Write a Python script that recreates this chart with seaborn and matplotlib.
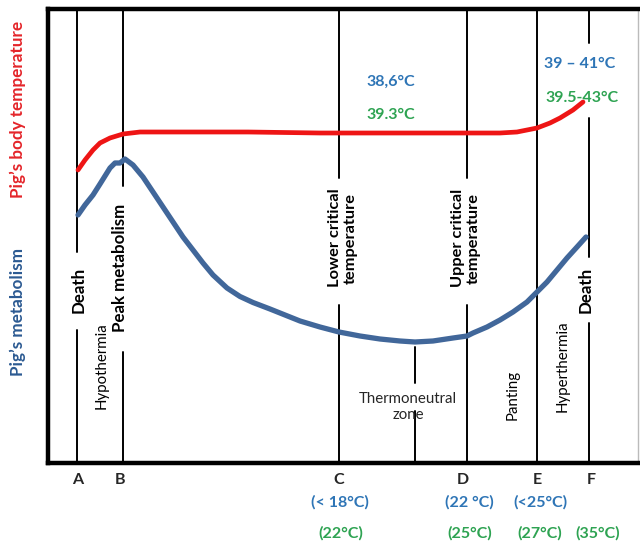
import matplotlib
matplotlib.use("Agg")
import matplotlib.pyplot as plt
import seaborn as sns
import pandas as pd

# ---- data ----
# body temperature curve (arbitrary units)
temp_x = [30, 37, 45, 52, 62, 75, 92, 145, 200, 272, 291, 419, 452, 469, 489, 502, 512, 525, 535]
temp_y = [293, 303, 313, 320, 325, 329, 331, 331, 331, 330, 330, 330, 330, 331, 335, 340, 345, 353, 361]
# metabolism curve (arbitrary units)
metab_x = [30, 37, 45, 52, 62, 67, 72, 77, 85, 95, 105, 115, 125, 135, 145, 155, 165, 179,
           192, 205, 222, 232, 252, 272, 291, 312, 332, 352, 367, 385, 405, 419, 425, 439,
           452, 465, 479, 489, 499, 509, 519, 529, 538]
metab_y = [248, 258, 268, 279, 295, 300, 300, 304, 298, 286, 271, 256, 241, 226, 213, 200, 188, 175,
           166.5, 160.5, 154, 150, 142, 136, 131, 127, 124, 122, 121, 122, 125, 127, 130, 136,
           143, 151, 161, 171, 181, 193, 205, 216, 226]

stage_labels = ["A", "B", "C", "D", "E", "F"]
stage_x = [29, 75, 291, 419, 489, 541]
thermo_mid_x = 367

low_temp_blue = ["(< 18°C)", "(22 °C)", "(<25°C)"]
low_temp_blue_x = [292, 421, 492]
low_temp_green = ["(22°C)", "(25°C)", "(27°C)", "(35°C)"]
low_temp_green_x = [293, 422, 492, 550]

body_temp_blue = ["38,6°C", "39 – 41°C"]
body_temp_green = ["39.3°C", "39.5-43°C"]

# ---- style ----
sns.set_theme(style="white")
plt.rcParams["font.family"] = ["Lato", "DejaVu Sans"]

RED = "#ee1515"
BLUE = "#41679a"
RED_LBL = "#e4252a"
BLUE_LBL = "#2c5a92"
TBLUE = "#2e75b6"
TGREEN = "#2ea352"

fig = plt.figure(figsize=(6.4, 5.48), dpi=100)
ax = fig.add_axes([48 / 640, 1 - 463 / 548, 590 / 640, (463 - 8.5) / 548])
ax.set_xlim(0, 590)
ax.set_ylim(0, 454.5)

df_t = pd.DataFrame({"x": temp_x, "y": temp_y})
df_m = pd.DataFrame({"x": metab_x, "y": metab_y})
sns.lineplot(data=df_m, x="x", y="y", sort=False, color=BLUE, lw=3.8, ax=ax,
             solid_capstyle="round", solid_joinstyle="round", zorder=3)
sns.lineplot(data=df_t, x="x", y="y", sort=False, color=RED, lw=3.4, ax=ax,
             solid_capstyle="round", solid_joinstyle="round", zorder=3)

# vertical stage lines (with gaps for labels)
vl = dict(color="black", lw=1.4, zorder=2)
ymax = 454.5
segs = {
    stage_x[0]: [(211, ymax), (0, 133)],
    stage_x[1]: [(277, ymax), (0, 111)],
    stage_x[2]: [(285, ymax), (0, 158)],
    stage_x[3]: [(285, ymax), (0, 158)],
    stage_x[4]: [(0, ymax)],
    stage_x[5]: [(420, ymax), (206, 345), (0, 140)],
    thermo_mid_x: [(80, 116), (0, 52)],
}
for x, ss in segs.items():
    for lo, hi in ss:
        ax.plot([x, x], [lo, hi], **vl)

# spines
for s in ["left", "bottom", "top"]:
    ax.spines[s].set_linewidth(3.2)
    ax.spines[s].set_color("black")
ax.spines["right"].set_linewidth(1.0)
ax.spines["right"].set_color("#bbbbbb")
ax.set_xticks([])
ax.set_yticks([])
ax.set_xlabel("")
ax.set_ylabel("")

# rotated labels at lines
BF = 12.2
NF = 10.8
bold = dict(fontweight="bold", rotation=90, ha="center", va="center", color="black")
norm = dict(rotation=90, ha="center", va="center", color="black")
ax.text(31, 173, "Death", fontsize=BF, **bold)
ax.text(54, 97, "Hypothermia", fontsize=NF, **norm)
ax.text(72, 195, "Peak metabolism", fontsize=BF, **bold)
ax.text(295, 225, "Lower critical\ntemperature", fontsize=BF * 0.97, linespacing=1.15, **bold)
ax.text(418, 225, "Upper critical\ntemperature", fontsize=BF * 0.97, linespacing=1.15, **bold)
ax.text(360, 56, "Thermoneutral\nzone", fontsize=NF, ha="center", va="center",
        linespacing=1.25)
ax.text(465, 68, "Panting", fontsize=NF, **norm)
ax.text(515, 97, "Hyperthermia", fontsize=NF, **norm)
ax.text(538, 173, "Death", fontsize=BF, **bold)

# body temperature annotations
TF = 11.5
ax.text(343, 381, body_temp_blue[0], fontsize=TF, fontweight="bold", color=TBLUE,
        ha="center", va="center")
ax.text(343, 348, body_temp_green[0], fontsize=TF, fontweight="bold", color=TGREEN,
        ha="center", va="center")
ax.text(532, 399, body_temp_blue[1], fontsize=TF, fontweight="bold", color=TBLUE,
        ha="center", va="center")
ax.text(534, 365, body_temp_green[1], fontsize=TF, fontweight="bold", color=TGREEN,
        ha="center", va="center")

# bottom labels
for lab, x in zip(stage_labels, [30, 72, 291, 415, 489, 543]):
    ax.text(x, -17, lab, fontsize=11.5, fontweight="bold", ha="center", va="center",
            clip_on=False)
for lab, x in zip(low_temp_blue, low_temp_blue_x):
    ax.text(x, -39, lab, fontsize=TF, fontweight="bold", color=TBLUE, ha="center",
            va="center", clip_on=False)
for lab, x in zip(low_temp_green, low_temp_green_x):
    ax.text(x, -70, lab, fontsize=TF, fontweight="bold", color=TGREEN, ha="center",
            va="center", clip_on=False)

# axis titles
fig.text(18 / 640, 1 - 109 / 548, "Pig’s body temperature", rotation=90, ha="center",
         va="center", fontsize=12.3, fontweight="bold", color=RED_LBL)
fig.text(18 / 640, 1 - 312 / 548, "Pig’s metabolism", rotation=90, ha="center",
         va="center", fontsize=12.3, fontweight="bold", color=BLUE_LBL)

fig.savefig("out.png", dpi=100)
